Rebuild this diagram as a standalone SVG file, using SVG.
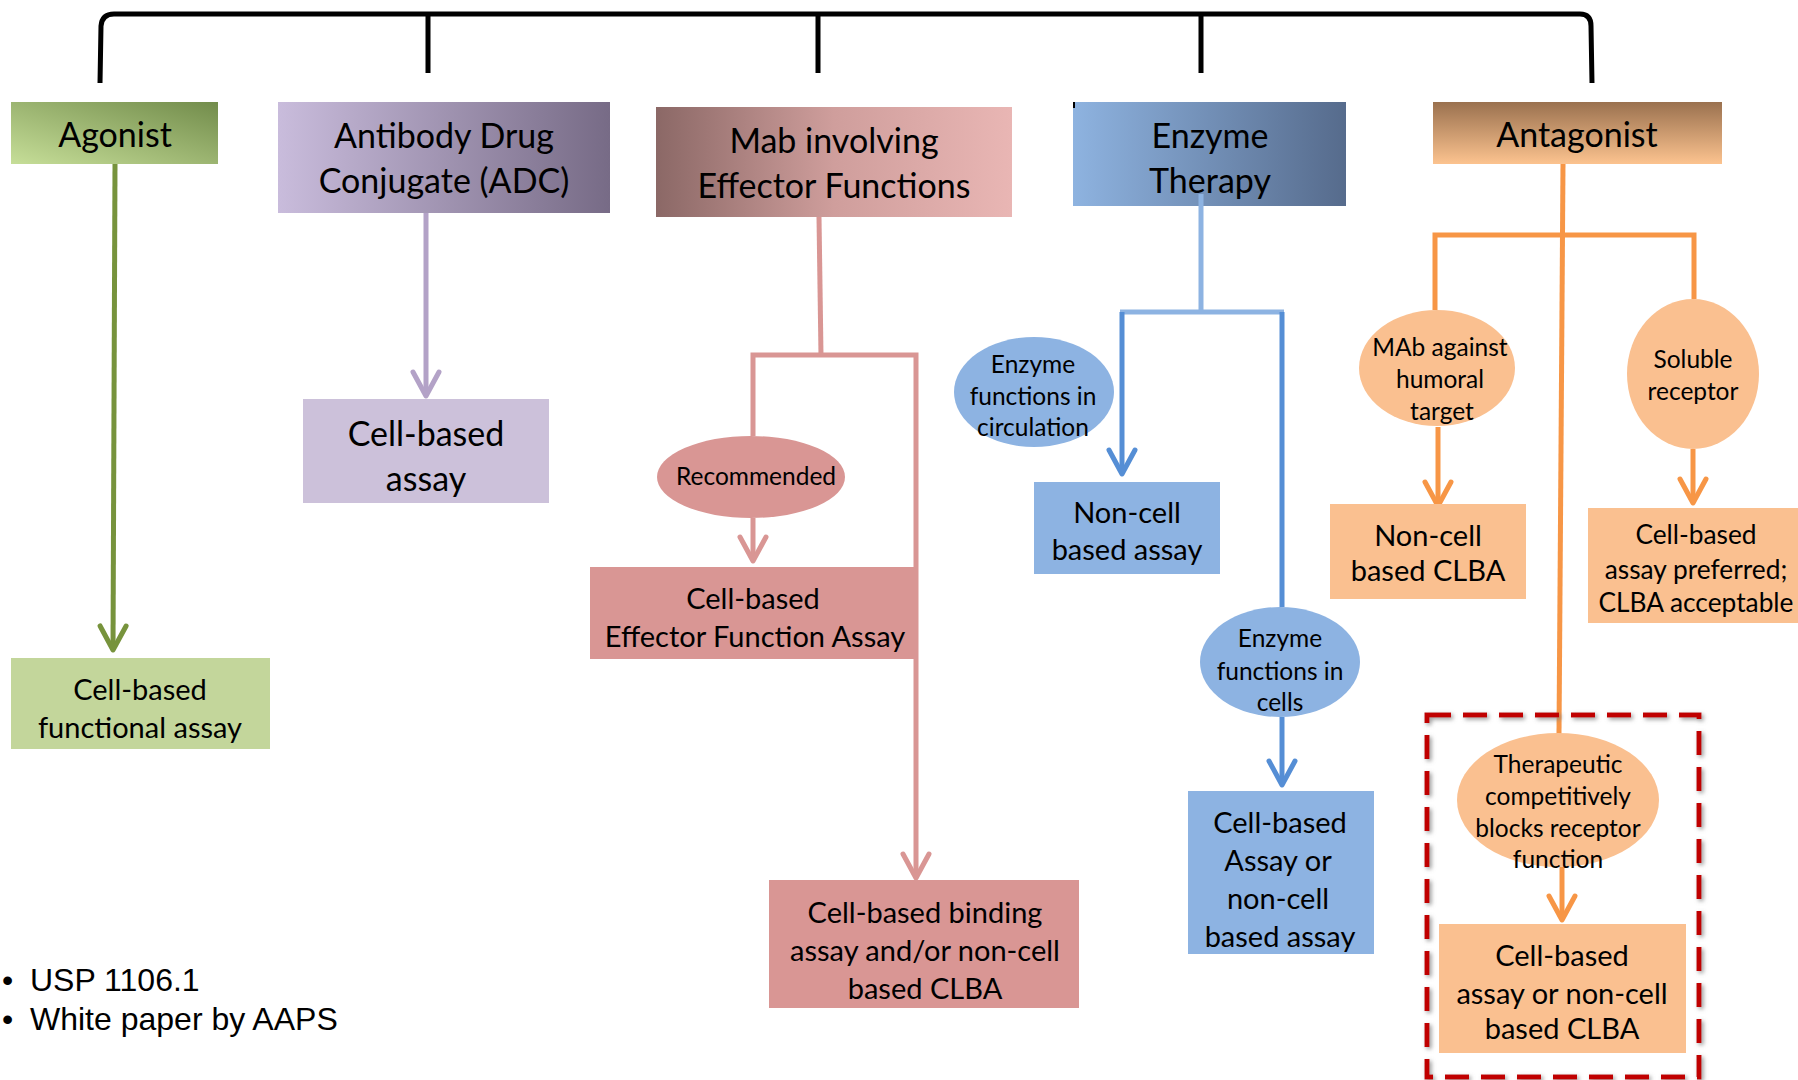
<svg xmlns="http://www.w3.org/2000/svg" width="1798" height="1080" viewBox="0 0 1798 1080">
<style>
text{font-family:Lato,"Open Sans",sans-serif;fill:#000;text-anchor:middle;dominant-baseline:central}
.h{font-size:34px}
.b{font-size:29px}
.e{font-size:24.5px}
.p{font-size:26.3px}
.fn{font-family:"Liberation Sans",Arial,sans-serif;font-size:32px;text-anchor:start;dominant-baseline:auto}
.c{fill:none;stroke-width:5}
.green{stroke:#77933c}.purple{stroke:#b3a2c7}.pink{stroke:#d99694}.lblue{stroke:#8db3e2}.dblue{stroke:#558ed5}.orange{stroke:#f79646}
</style>
<defs>
<linearGradient id="gAg" x1="0" y1="1" x2="1" y2="0"><stop offset="0" stop-color="#c6de98"/><stop offset="1" stop-color="#728c4b"/></linearGradient>
<linearGradient id="gAdc" x1="0" y1="0" x2="1" y2="0"><stop offset="0" stop-color="#c9bcdc"/><stop offset="1" stop-color="#776b86"/></linearGradient>
<linearGradient id="gMab" x1="0" y1="0" x2="1" y2="0"><stop offset="0" stop-color="#8b6866"/><stop offset="0.5" stop-color="#cf9e9c"/><stop offset="1" stop-color="#e9b6b4"/></linearGradient>
<linearGradient id="gEnz" x1="0" y1="0" x2="1" y2="0"><stop offset="0" stop-color="#8eb3e0"/><stop offset="1" stop-color="#566b8c"/></linearGradient>
<linearGradient id="gAnt" x1="0" y1="0" x2="0" y2="1"><stop offset="0" stop-color="#9a714f"/><stop offset="1" stop-color="#fcc38f"/></linearGradient>
<marker id="aGreen" markerUnits="userSpaceOnUse" viewBox="-30 -16 34 32" refX="0" refY="0" markerWidth="34" markerHeight="32" orient="auto" overflow="visible"><path d="M-24,-13 L0,0 L-24,13" fill="none" stroke="#77933c" stroke-width="5" stroke-linecap="round" stroke-linejoin="round"/></marker>
<marker id="aPurple" markerUnits="userSpaceOnUse" viewBox="-30 -16 34 32" refX="0" refY="0" markerWidth="34" markerHeight="32" orient="auto" overflow="visible"><path d="M-24,-13 L0,0 L-24,13" fill="none" stroke="#b3a2c7" stroke-width="5" stroke-linecap="round" stroke-linejoin="round"/></marker>
<marker id="aPink" markerUnits="userSpaceOnUse" viewBox="-30 -16 34 32" refX="0" refY="0" markerWidth="34" markerHeight="32" orient="auto" overflow="visible"><path d="M-24,-13 L0,0 L-24,13" fill="none" stroke="#d99694" stroke-width="5" stroke-linecap="round" stroke-linejoin="round"/></marker>
<marker id="aBlue" markerUnits="userSpaceOnUse" viewBox="-30 -16 34 32" refX="0" refY="0" markerWidth="34" markerHeight="32" orient="auto" overflow="visible"><path d="M-24,-13 L0,0 L-24,13" fill="none" stroke="#558ed5" stroke-width="5" stroke-linecap="round" stroke-linejoin="round"/></marker>
<marker id="aOrange" markerUnits="userSpaceOnUse" viewBox="-30 -16 34 32" refX="0" refY="0" markerWidth="34" markerHeight="32" orient="auto" overflow="visible"><path d="M-24,-13 L0,0 L-24,13" fill="none" stroke="#f79646" stroke-width="5" stroke-linecap="round" stroke-linejoin="round"/></marker>
<filter id="shadow" x="-10%" y="-10%" width="120%" height="120%"><feDropShadow dx="2" dy="2" stdDeviation="2" flood-color="#808080" flood-opacity="0.8"/></filter>
</defs>
<rect width="1798" height="1080" fill="#fff"/>

<g id="bracket" fill="none" stroke="#000" stroke-width="5">
<path d="M100,83 L101,26 Q102,14 114,14 L1580,14 Q1591,14 1591,26 L1592,83"/>
<path d="M428,14 V73 M818,14 V73 M1201,14 V73"/>
</g>

<g id="header-agonist"><rect x="11" y="102" width="207" height="62" fill="url(#gAg)"/><text class="h" x="115" y="133">Agonist</text></g>
<g id="header-adc"><rect x="278" y="102" width="332" height="111" fill="url(#gAdc)"/><text class="h" x="444" y="134">Antibody Drug</text><text class="h" x="444" y="179">Conjugate (ADC)</text></g>
<g id="header-mab"><rect x="656" y="107" width="356" height="110" fill="url(#gMab)"/><text class="h" x="834" y="139">Mab involving</text><text class="h" x="834" y="184">Effector Functions</text></g>
<g id="header-enzyme"><rect x="1073" y="102" width="273" height="104" fill="url(#gEnz)"/><path d="M1074,102 V108" stroke="#000" stroke-width="2"/><text class="h" x="1210" y="134">Enzyme</text><text class="h" x="1210" y="179">Therapy</text></g>
<g id="header-antagonist"><rect x="1433" y="102" width="289" height="62" fill="url(#gAnt)"/><text class="h" x="1577" y="133">Antagonist</text></g>

<g id="connectors">
<path class="c green" d="M115,164 L113,650" marker-end="url(#aGreen)"/>
<path class="c purple" d="M426,213 L426,396" marker-end="url(#aPurple)"/>
<path class="c pink" d="M819,217 L821,355"/>
<path class="c pink" d="M753,436 V355 H916 V878" marker-end="url(#aPink)"/>
<path class="c pink" d="M753,518 V561" marker-end="url(#aPink)"/>
<path class="c lblue" d="M1201,194 V312 M1120,312 H1284"/>
<path class="c dblue" d="M1122,312 V474" marker-end="url(#aBlue)"/>
<path class="c dblue" d="M1282,312 V607"/>
<path class="c dblue" d="M1282,717 V785" marker-end="url(#aBlue)"/>
<path class="c orange" d="M1563,164 L1559,734"/>
<path class="c orange" d="M1435,310 V235 H1694 V299"/>
<path class="c orange" d="M1438,427 V506" marker-end="url(#aOrange)"/>
<path class="c orange" d="M1693,449 V503" marker-end="url(#aOrange)"/>
<path class="c orange" d="M1562,867 V920" marker-end="url(#aOrange)"/>
</g>

<g id="node-adc-cell"><rect x="303" y="399" width="246" height="104" fill="#ccc1da"/><text class="h" x="426" y="432">Cell-based</text><text class="h" x="426" y="477">assay</text></g>
<g id="node-agonist-cell"><rect x="11" y="658" width="259" height="91" fill="#c3d69b"/><text class="b" x="140" y="688">Cell-based</text><text class="b" x="140" y="726">functional assay</text></g>
<g id="node-recommended"><ellipse cx="751" cy="477" rx="94" ry="41" fill="#d99694"/><text class="e" x="756" y="475">Recommended</text></g>
<g id="node-effector"><rect x="590" y="567" width="326" height="92" fill="#d99694"/><text class="b" x="753" y="597">Cell-based</text><text class="b" x="755" y="635">Effector Function Assay</text></g>
<g id="node-binding"><rect x="769" y="880" width="310" height="128" fill="#d99694"/><text class="b" x="925" y="911">Cell-based binding</text><text class="b" x="925" y="949">assay and/or non-cell</text><text class="b" x="925" y="987">based CLBA</text></g>
<g id="node-enz-circ"><ellipse cx="1034" cy="392" rx="80" ry="55" fill="#8db3e2"/><text class="e" x="1033" y="363">Enzyme</text><text class="e" x="1033" y="395">functions in</text><text class="e" x="1033" y="426">circulation</text></g>
<g id="node-noncell-assay"><rect x="1034" y="482" width="186" height="92" fill="#8db3e2"/><text class="b" x="1127" y="511">Non-cell</text><text class="b" x="1127" y="548">based assay</text></g>
<g id="node-enz-cells"><ellipse cx="1280" cy="662" rx="80" ry="55" fill="#8db3e2"/><text class="e" x="1280" y="637">Enzyme</text><text class="e" x="1280" y="670">functions in</text><text class="e" x="1280" y="701">cells</text></g>
<g id="node-cell-or-noncell"><rect x="1188" y="791" width="186" height="163" fill="#8db3e2"/><text class="b" x="1280" y="821">Cell-based</text><text class="b" x="1278" y="859">Assay or</text><text class="b" x="1278" y="897">non-cell</text><text class="b" x="1280" y="935">based assay</text></g>
<g id="node-mab-humoral"><ellipse cx="1437" cy="368" rx="78" ry="58" fill="#fac090"/><text class="e" x="1440" y="346">MAb against</text><text class="e" x="1440" y="378">humoral</text><text class="e" x="1442" y="410">target</text></g>
<g id="node-noncell-clba"><rect x="1330" y="504" width="196" height="95" fill="#fac090"/><text class="b" x="1428" y="534">Non-cell</text><text class="b" x="1428" y="569">based CLBA</text></g>
<g id="node-soluble"><ellipse cx="1693" cy="374" rx="66" ry="75" fill="#fac090"/><text class="e" x="1693" y="358">Soluble</text><text class="e" x="1693" y="390">receptor</text></g>
<g id="node-preferred"><rect x="1588" y="508" width="210" height="115" fill="#fac090"/><text class="p" x="1696" y="534">Cell-based</text><text class="p" x="1696" y="569">assay preferred;</text><text class="p" x="1696" y="602">CLBA acceptable</text></g>
<g id="highlight"><rect x="1427" y="715" width="272" height="362" fill="none" stroke="#c00000" stroke-width="5" stroke-dasharray="24 12" filter="url(#shadow)"/></g>
<g id="node-therapeutic"><ellipse cx="1558" cy="800" rx="101" ry="67" fill="#fac090"/><text class="e" x="1558" y="763">Therapeutic</text><text class="e" x="1558" y="795">competitively</text><text class="e" x="1558" y="827">blocks receptor</text><text class="e" x="1558" y="858">function</text></g>
<g id="node-therapeutic-assay"><rect x="1439" y="924" width="247" height="129" fill="#fac090"/><text class="b" x="1562" y="954">Cell-based</text><text class="b" x="1562" y="992">assay or non-cell</text><text class="b" x="1562" y="1027">based CLBA</text></g>

<g id="footnote">
<text class="fn" x="2" y="991">•</text><text class="fn" x="30" y="991">USP 1106.1</text>
<text class="fn" x="2" y="1030">•</text><text class="fn" x="30" y="1030">White paper by AAPS</text>
</g>
</svg>
